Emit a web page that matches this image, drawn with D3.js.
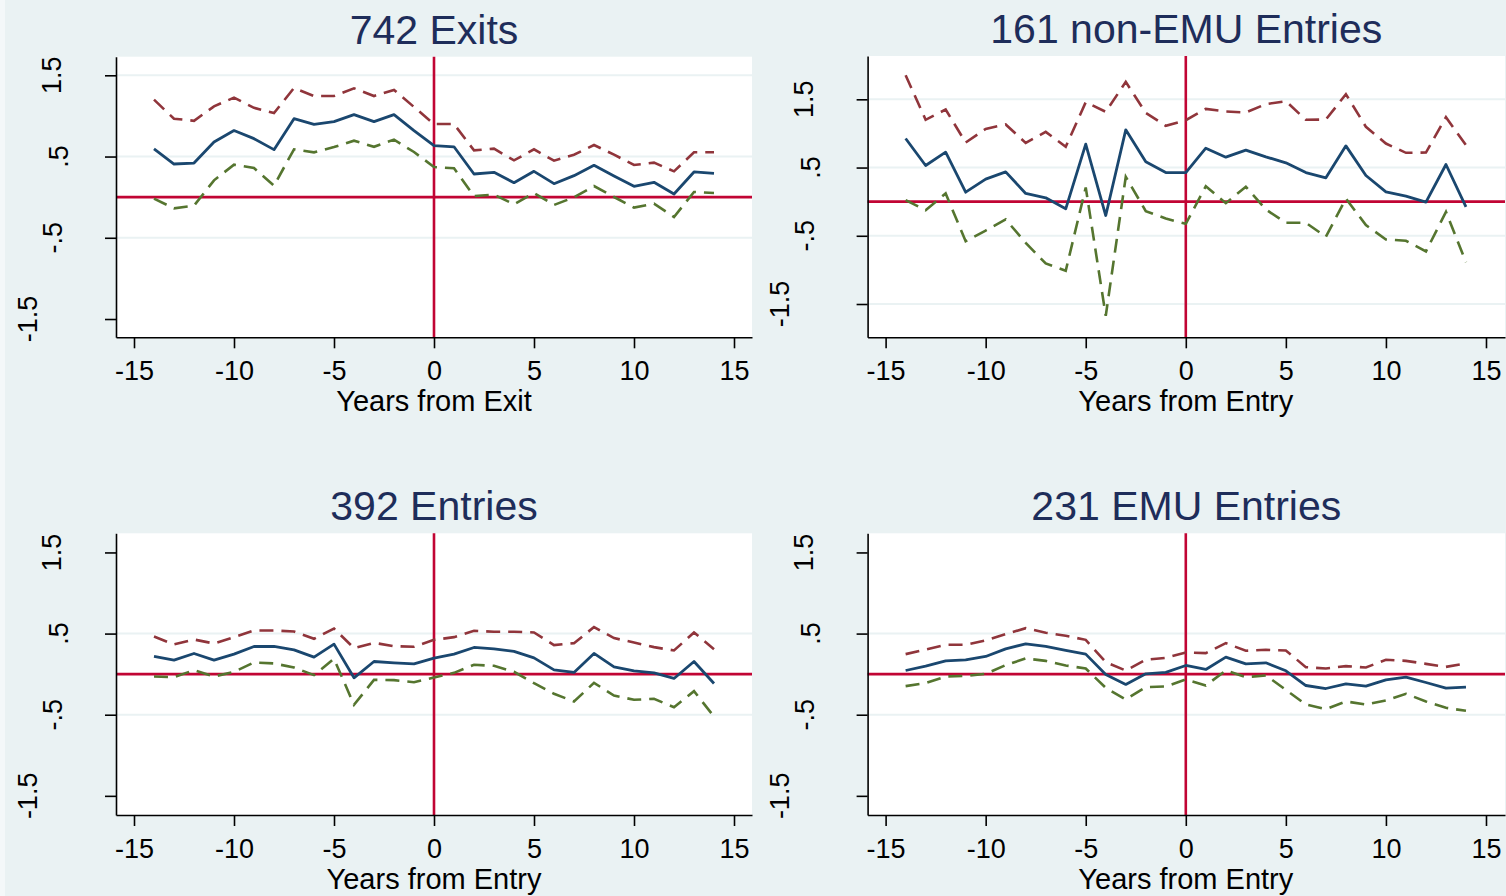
<!DOCTYPE html>
<html>
<head>
<meta charset="utf-8">
<script src="https://cdn.jsdelivr.net/npm/d3@7"></script>
<style>
  html, body { margin: 0; padding: 0; background: #eaf2f3; }
  svg { display: block; font-family: "Liberation Sans", Arial, sans-serif; }
</style>
</head>
<body>
<svg id="chart" width="1506" height="896"></svg>
<script>
// Event-time axis: years relative to the event
const years = [-14, -13, -12, -11, -10, -9, -8, -7, -6, -5, -4, -3, -2, -1, 0,
               1, 2, 3, 4, 5, 6, 7, 8, 9, 10, 11, 12, 13, 14];

const xTickValues = [-15, -10, -5, 0, 5, 10, 15];
const yTickValues = [1.5, 0.5, -0.5, -1.5];
const yTickLabels = ["1.5", ".5", "-.5", "-1.5"];

const panelTitles = ["742 Exits", "161 non-EMU Entries", "392 Entries", "231 EMU Entries"];
const axisTitles = ["Years from Exit", "Years from Entry", "Years from Entry", "Years from Entry"];

// 742 Exits
const exitsUpper = [1.20, 0.966, 0.94, 1.118, 1.225, 1.10, 1.036, 1.344, 1.245, 1.245, 1.34, 1.245, 1.32, 1.11, 0.90,
                    0.90, 0.576, 0.597, 0.453, 0.589, 0.449, 0.523, 0.642, 0.523, 0.396, 0.425, 0.318, 0.552, 0.552];
const exitsMean  = [0.593, 0.408, 0.42, 0.68, 0.82, 0.72, 0.585, 0.966, 0.897, 0.93, 1.016, 0.93, 1.016, 0.82, 0.634,
                    0.62, 0.285, 0.306, 0.178, 0.318, 0.166, 0.265, 0.392, 0.26, 0.133, 0.183, 0.039, 0.31, 0.293];
const exitsLower = [-0.018, -0.137, -0.105, 0.207, 0.40, 0.359, 0.142, 0.589, 0.552, 0.617, 0.695, 0.62, 0.708, 0.556, 0.371,
                    0.355, 0.014, 0.031, -0.088, 0.051, -0.096, -0.002, 0.137, 0.002, -0.129, -0.08, -0.244, 0.064, 0.051];

// 161 non-EMU Entries
const nonEmuUpper = [1.854, 1.20, 1.35, 0.867, 1.067, 1.131, 0.862, 1.023, 0.804, 1.458, 1.317, 1.756, 1.302, 1.111, 1.194,
                     1.36, 1.321, 1.307, 1.429, 1.473, 1.20, 1.204, 1.575, 1.097, 0.852, 0.716, 0.72, 1.238, 0.828];
const nonEmuMean  = [0.926, 0.53, 0.725, 0.139, 0.33, 0.437, 0.12, 0.056, -0.105, 0.843, -0.203, 1.053, 0.584, 0.427, 0.427,
                     0.784, 0.652, 0.755, 0.657, 0.569, 0.427, 0.349, 0.818, 0.383, 0.144, 0.08, -0.007, 0.545, -0.076];
const nonEmuLower = [0.022, -0.125, 0.12, -0.579, -0.423, -0.261, -0.603, -0.906, -1.013, 0.208, -1.674, 0.364, -0.139, -0.247, -0.325,
                     0.227, -0.022, 0.218, -0.115, -0.31, -0.31, -0.515, 0.046, -0.344, -0.554, -0.574, -0.73, -0.149, -0.887];

// 392 Entries
const entriesUpper = [0.464, 0.366, 0.427, 0.378, 0.456, 0.538, 0.538, 0.526, 0.436, 0.563, 0.32, 0.386, 0.345, 0.337, 0.423,
                      0.456, 0.534, 0.522, 0.522, 0.514, 0.358, 0.382, 0.58, 0.444, 0.39, 0.333, 0.292, 0.514, 0.308];
const entriesMean  = [0.218, 0.173, 0.255, 0.173, 0.247, 0.341, 0.341, 0.30, 0.21, 0.37, -0.045, 0.156, 0.14, 0.127, 0.197,
                      0.247, 0.329, 0.312, 0.28, 0.201, 0.053, 0.021, 0.255, 0.09, 0.041, 0.016, -0.053, 0.156, -0.115];
const entriesLower = [-0.029, -0.037, 0.049, -0.029, 0.029, 0.144, 0.132, 0.082, -0.012, 0.189, -0.378, -0.07, -0.074, -0.099, -0.041,
                      0.016, 0.115, 0.103, 0.029, -0.111, -0.242, -0.337, -0.107, -0.263, -0.316, -0.304, -0.407, -0.21, -0.522];

// 231 EMU Entries
const emuUpper = [0.247, 0.304, 0.362, 0.362, 0.415, 0.493, 0.567, 0.51, 0.473, 0.423, 0.148, 0.045, 0.177, 0.201, 0.267,
                  0.259, 0.382, 0.288, 0.30, 0.292, 0.086, 0.07, 0.099, 0.082, 0.177, 0.164, 0.127, 0.09, 0.132];
const emuMean  = [0.045, 0.099, 0.164, 0.177, 0.218, 0.312, 0.374, 0.341, 0.292, 0.247, -0.004, -0.127, 0.004, 0.021, 0.107,
                  0.058, 0.21, 0.127, 0.14, 0.041, -0.14, -0.177, -0.119, -0.148, -0.07, -0.037, -0.103, -0.173, -0.16];
const emuLower = [-0.148, -0.111, -0.029, -0.021, 0.004, 0.111, 0.193, 0.164, 0.107, 0.07, -0.169, -0.312, -0.16, -0.152, -0.066,
                  -0.14, 0.045, -0.037, -0.016, -0.193, -0.374, -0.432, -0.337, -0.374, -0.325, -0.242, -0.337, -0.415, -0.452];

// Axis ranges of each panel
const yRanges = [[-1.725, 1.729], [-1.988, 2.135], [-1.736, 1.736], [-1.736, 1.736]];
const xRanges = [[-15.9, 15.9], [-15.9, 15.95], [-15.9, 15.9], [-15.9, 15.95]];

// ---- layout and style ----
const colors = {
  background: "#eaf2f3",
  grid: "#eaf2f3",
  upper: "#90353b",
  mean: "#1a476f",
  lower: "#55752f",
  ref: "#c10534",
  title: "#1e2d5a",
  axis: "#000000"
};

const boxes = [
  { left: 116,   right: 752,  top: 56.7, bottom: 337.3 },
  { left: 867.6, right: 1505, top: 56,   bottom: 337.3 },
  { left: 116,   right: 752,  top: 533.3, bottom: 815 },
  { left: 867.6, right: 1505, top: 533.3, bottom: 815 }
];
// which y ticks carry a grid line in each panel
const gridTicks = [[1.5, 0.5, -0.5], [1.5, 0.5, -0.5, -1.5], [0.5, -0.5], [0.5, -0.5]];
// distance of the rotated label baseline from the axis, per label
const yLabelGap = { "1.5": 55, ".5": 48, "-.5": 54, "-1.5": 79 };

const svg = d3.select("#chart");

svg.append("rect").attr("x", 0).attr("y", 0).attr("width", 1506).attr("height", 896)
  .attr("fill", colors.background);
svg.append("rect").attr("x", 0).attr("y", 0).attr("width", 5).attr("height", 896)
  .attr("fill", "#f4f8f9");

const panels = [
  { upper: exitsUpper, mean: exitsMean, lower: exitsLower },
  { upper: nonEmuUpper, mean: nonEmuMean, lower: nonEmuLower },
  { upper: entriesUpper, mean: entriesMean, lower: entriesLower },
  { upper: emuUpper, mean: emuMean, lower: emuLower }
];

panels.forEach((series, i) => {
  const b = boxes[i];
  const g = svg.append("g");
  const x = d3.scaleLinear().domain(xRanges[i]).range([b.left, b.right]);
  const y = d3.scaleLinear().domain(yRanges[i]).range([b.bottom, b.top]);

  // plot region
  g.append("rect")
    .attr("x", b.left).attr("y", b.top)
    .attr("width", b.right - b.left).attr("height", b.bottom - b.top)
    .attr("fill", "#ffffff");

  // grid lines
  g.selectAll("line.grid").data(gridTicks[i]).join("line")
    .attr("class", "grid")
    .attr("x1", b.left).attr("x2", b.right)
    .attr("y1", d => y(d)).attr("y2", d => y(d))
    .attr("stroke", colors.grid).attr("stroke-width", 2);

  // reference lines at zero
  g.append("line")
    .attr("x1", b.left).attr("x2", b.right)
    .attr("y1", y(0)).attr("y2", y(0))
    .attr("stroke", colors.ref).attr("stroke-width", 2.6);
  g.append("line")
    .attr("x1", x(0)).attr("x2", x(0))
    .attr("y1", b.top).attr("y2", b.bottom)
    .attr("stroke", colors.ref).attr("stroke-width", 2.6);

  const line = d3.line().x((d, k) => x(years[k])).y(d => y(d));

  g.append("path").datum(series.upper)
    .attr("d", line).attr("fill", "none")
    .attr("stroke", colors.upper).attr("stroke-width", 2.6)
    .attr("stroke-dasharray", "14,8");
  g.append("path").datum(series.lower)
    .attr("d", line).attr("fill", "none")
    .attr("stroke", colors.lower).attr("stroke-width", 2.6)
    .attr("stroke-dasharray", "14,8");
  g.append("path").datum(series.mean)
    .attr("d", line).attr("fill", "none")
    .attr("stroke", colors.mean).attr("stroke-width", 2.8)
    .attr("stroke-linejoin", "round");

  // x axis
  const xAxis = g.append("g")
    .attr("transform", `translate(0,${b.bottom})`)
    .call(d3.axisBottom(x).tickValues(xTickValues).tickSize(11).tickSizeOuter(0).tickPadding(13)
      .tickFormat(d3.format("d")));
  xAxis.select(".domain").attr("stroke", colors.axis).attr("stroke-width", 1.6);
  xAxis.selectAll(".tick line").attr("stroke", colors.axis).attr("stroke-width", 1.6);
  xAxis.selectAll(".tick text")
    .attr("fill", "#000").attr("font-size", 27)
    .attr("font-family", "'Liberation Sans', Arial, sans-serif")
    .text(d => d < 0 ? "-" + Math.abs(d) : String(d));

  // y axis
  const yAxis = g.append("g")
    .attr("transform", `translate(${b.left},0)`)
    .call(d3.axisLeft(y).tickValues(yTickValues).tickSize(11).tickSizeOuter(0).tickFormat(""));
  yAxis.select(".domain").attr("stroke", colors.axis).attr("stroke-width", 1.6);
  yAxis.selectAll(".tick line").attr("stroke", colors.axis).attr("stroke-width", 1.6);

  g.selectAll("text.ylab").data(yTickValues).join("text")
    .attr("class", "ylab")
    .attr("transform", (d, k) => `translate(${b.left - yLabelGap[yTickLabels[k]]},${y(d)}) rotate(-90)`)
    .attr("text-anchor", "middle")
    .attr("font-size", 27)
    .attr("fill", "#000")
    .text((d, k) => yTickLabels[k]);

  // axis title
  g.append("text")
    .attr("x", x(0)).attr("y", b.bottom + 74)
    .attr("text-anchor", "middle")
    .attr("font-size", 29)
    .attr("fill", "#000")
    .text(axisTitles[i]);

  // panel title
  g.append("text")
    .attr("x", (b.left + b.right) / 2).attr("y", b.top - 13)
    .attr("text-anchor", "middle")
    .attr("font-size", 41)
    .attr("fill", colors.title)
    .text(panelTitles[i]);
});
</script>
</body>
</html>
